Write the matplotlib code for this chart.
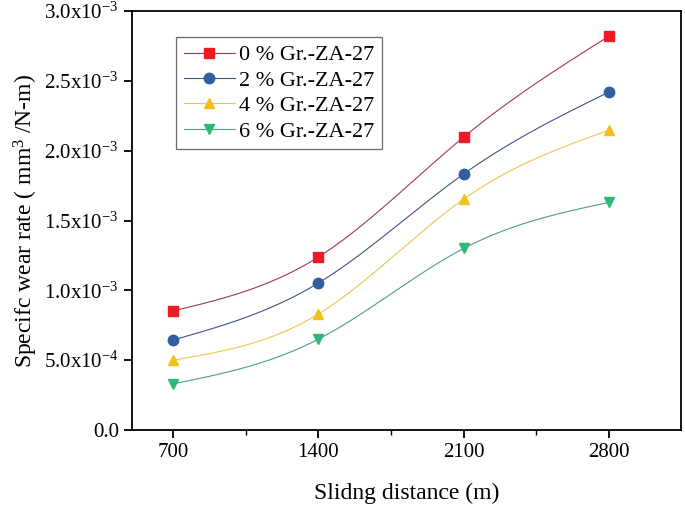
import numpy as np
import matplotlib.pyplot as plt
from matplotlib.ticker import FixedLocator, FuncFormatter

plt.rcParams['font.family'] = ['Liberation Serif', 'DejaVu Serif']
plt.rcParams['mathtext.fontset'] = 'custom'
plt.rcParams['mathtext.rm'] = 'Liberation Serif'
plt.rcParams['mathtext.it'] = 'Liberation Serif:italic'

# Data
distance = [700, 1400, 2100, 2800]
wear_0 = [0.852e-3, 1.238e-3, 2.097e-3, 2.820e-3]
wear_2 = [0.644e-3, 1.052e-3, 1.833e-3, 2.420e-3]
wear_4 = [0.500e-3, 0.830e-3, 1.653e-3, 2.147e-3]
wear_6 = [0.330e-3, 0.650e-3, 1.300e-3, 1.630e-3]
labels = ["0 % Gr.-ZA-27", "2 % Gr.-ZA-27", "4 % Gr.-ZA-27", "6 % Gr.-ZA-27"]

colors = ["#ec1c24", "#2f5f9e", "#f5c01a", "#2db873"]
line_colors = ["#a33a48", "#3d5580", "#e8c850", "#4f9f85"]
markers = ["s", "o", "^", "v"]


def natural_spline(x, y, n=200):
    # natural cubic spline through the points, for drawing the smooth line
    x = np.asarray(x, float)
    y = np.asarray(y, float)
    k = len(x)
    h = np.diff(x)
    A = np.zeros((k, k))
    b = np.zeros(k)
    A[0, 0] = A[-1, -1] = 1.0
    for i in range(1, k - 1):
        A[i, i - 1] = h[i - 1]
        A[i, i] = 2 * (h[i - 1] + h[i])
        A[i, i + 1] = h[i]
        b[i] = 6 * ((y[i + 1] - y[i]) / h[i] - (y[i] - y[i - 1]) / h[i - 1])
    M = np.linalg.solve(A, b)
    xs = np.linspace(x[0], x[-1], n)
    idx = np.clip(np.searchsorted(x, xs) - 1, 0, k - 2)
    x0, x1 = x[idx], x[idx + 1]
    hh = x1 - x0
    ys = (M[idx] * (x1 - xs) ** 3 / (6 * hh) + M[idx + 1] * (xs - x0) ** 3 / (6 * hh)
          + (y[idx] / hh - M[idx] * hh / 6) * (x1 - xs)
          + (y[idx + 1] / hh - M[idx + 1] * hh / 6) * (xs - x0))
    return xs, ys


fig = plt.figure(figsize=(6.85, 5.08), dpi=100)
ax = fig.add_axes([0.1927, 0.1535, 0.8015, 0.8248])

for series, lab, c, lc, m in zip([wear_0, wear_2, wear_4, wear_6], labels, colors, line_colors, markers):
    xs, ys = natural_spline(distance, series)
    ax.plot(xs, ys, color=lc, lw=0.8)
    ax.plot(distance, series, linestyle="none", marker=m, color=c, markersize=7.5)
    ax.plot([], [], color=lc, lw=0.8, marker=m, markerfacecolor=c, markeredgecolor=c,
            markersize=7.5, label=lab)

ax.set_xlim(503, 3147)
ax.set_ylim(0, 3.0e-3)
ax.set_xticks(distance)
ax.xaxis.set_minor_locator(FixedLocator([1050, 1750, 2450]))
ax.set_yticks(np.arange(0, 3.01e-3, 0.5e-3))


def yfmt(v, pos):
    if abs(v) < 1e-12:
        return "0.0"
    e = int(np.floor(np.log10(v)))
    m = v / 10 ** e
    return "%.1fx10$^{\\mathrm{%d}}$" % (m, e)


ax.yaxis.set_major_formatter(FuncFormatter(yfmt))
ax.tick_params(axis="both", which="major", direction="out", length=6, width=1.3, labelsize=15)
ax.tick_params(axis="x", which="minor", direction="out", length=3.5, width=1.0)
for s in ax.spines.values():
    s.set_linewidth(1.3)

ax.set_xlabel("Slidng distance (m)", fontsize=17, labelpad=15)
ax.set_ylabel("Specifc wear rate ( mm$^{3}$ /N-m)", fontsize=17, labelpad=3)

leg = ax.legend(loc="upper left", bbox_to_anchor=(0.080, 0.938), borderaxespad=0, fontsize=16,
                frameon=True, fancybox=False, edgecolor="#444444", handlelength=2.3,
                handletextpad=0.2, labelspacing=0.22, borderpad=0.35)
leg.get_frame().set_linewidth(0.9)

plt.savefig("out.png", dpi=100)
